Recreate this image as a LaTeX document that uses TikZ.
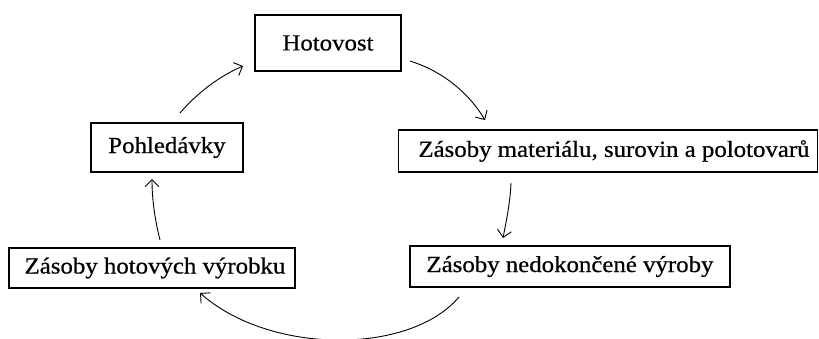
\documentclass[tikz,border=0pt]{standalone}
\usepackage{fontspec}
\newfontfamily\tnr[FakeStretch=1.08,FakeBold=0.6]{Liberation Serif}
\usetikzlibrary{arrows.meta}
\begin{document}
\begin{tikzpicture}[x=1pt,y=-1pt,
  box/.style={draw,line width=1.4pt,inner sep=0pt,font=\tnr\fontsize{23}{27}\selectfont},
  arr/.style={line width=0.9pt,-{Straight Barb[length=7pt,width=14pt]}}]
\useasboundingbox (0,0) rectangle (819,338);
\node[box,minimum width=146pt,minimum height=56pt] (hot) at (328,43) {Hotovost};
\node[box,minimum width=152pt,minimum height=49pt] (poh) at (167,147.5) {Pohledávky};
\node[box,minimum width=419pt,minimum height=42pt] (mat) at (608,151) {\hspace{12pt}Zásoby materiálu, surovin a polotovarů};
\node[box,minimum width=320pt,minimum height=41pt] (ned) at (570,266.5) {Zásoby nedokončené výroby};
\node[box,minimum width=286pt,minimum height=40pt] (hv) at (152,268) {\hspace{6pt}Zásoby hotových výrobku};
\coordinate (a1s) at (410,61);
\coordinate (a1e) at (485,120);
\coordinate (a2s) at (511,183);
\coordinate (a2e) at (503,238);
\coordinate (a3s) at (459,297);
\coordinate (a3e) at (200,293);
\coordinate (a4s) at (160,240);
\coordinate (a4e) at (152,179);
\coordinate (a5s) at (180,113);
\coordinate (a5e) at (243,66);
\draw[arr] (a1s) .. controls (445,72) and (470,95) .. (a1e);
\draw[arr] (a2s) .. controls (510,205) and (506,222) .. (a2e);
\draw[arr] (a3s) .. controls (410,355) and (270,355) .. (a3e);
\draw[arr] (a4s) .. controls (155,220) and (152,200) .. (a4e);
\draw[arr] (a5s) .. controls (198,92) and (220,76) .. (a5e);
\end{tikzpicture}
\end{document}
